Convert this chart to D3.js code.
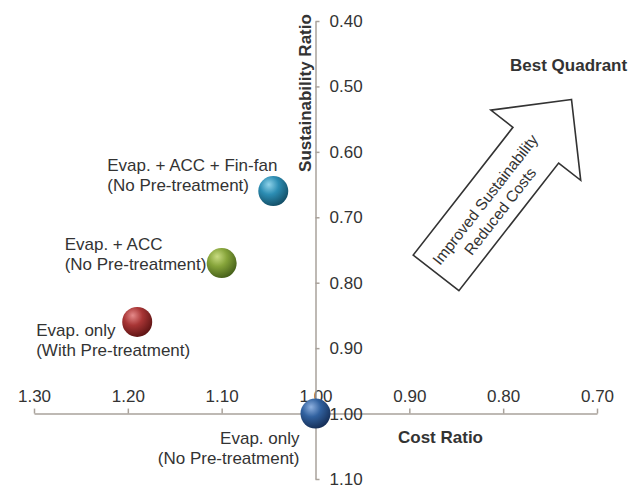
<!DOCTYPE html>
<html>
<head>
<meta charset="utf-8">
<script src="https://cdn.jsdelivr.net/npm/d3@7"></script>
<style>
  html, body { margin: 0; padding: 0; background: #fff; }
  svg { display: block; font-family: "Liberation Sans", Arial, sans-serif; }
</style>
</head>
<body>
<svg id="chart" width="634" height="488"></svg>
<script>
// Cost vs. sustainability of water treatment options (both ratios vs. baseline)
const options = ["Evap. + ACC + Fin-fan", "Evap. + ACC", "Evap. only (with pre-treatment)", "Evap. only (no pre-treatment)"];
const costRatio = [1.045, 1.10, 1.19, 1.00];
const sustainabilityRatio = [0.66, 0.77, 0.86, 1.00];
const labelLines = [
  ["Evap. + ACC + Fin-fan", "(No Pre-treatment)"],
  ["Evap. + ACC", "(No Pre-treatment)"],
  ["Evap. only", "(With Pre-treatment)"],
  ["Evap. only", "(No Pre-treatment)"]
];
const xTicks = [1.30, 1.20, 1.10, 1.00, 0.90, 0.80, 0.70];
const yTicks = [0.40, 0.50, 0.60, 0.70, 0.80, 0.90, 1.00, 1.10];

// sphere colours: [highlight, body, rim]
const sphereColors = [
  ["#8fd3ea", "#2c8db3", "#134e66"],
  ["#c9dc82", "#86a43a", "#46601a"],
  ["#e58a8a", "#a83535", "#5e1414"],
  ["#8fb1e0", "#31619f", "#162f58"]
];
// label placement relative to each point: [dx, dy of first baseline, anchor]
const labelPlacement = [
  [-166, -20, "start"],
  [-157, -13, "start"],
  [-101, 14, "start"],
  [-16, 30, "end"]
];

const svg = d3.select("#chart");
const x = d3.scaleLinear().domain([1.30, 0.70]).range([34, 597]);
const y = d3.scaleLinear().domain([0.40, 1.10]).range([21, 479]);

const axisColor = "#a9a29b";
const textColor = "#333";

// x axis crosses at sustainability 1.00
const gx = svg.append("g")
  .attr("transform", `translate(0,${y(1.00)})`)
  .call(d3.axisTop(x).tickValues(xTicks).tickFormat(d3.format(".2f")).tickSize(5).tickSizeOuter(0).tickPadding(7));

// y axis crosses at cost 1.00
const gy = svg.append("g")
  .attr("transform", `translate(${x(1.00)},0)`)
  .call(d3.axisRight(y).tickValues(yTicks).tickFormat(d3.format(".2f")).tickSize(4).tickSizeOuter(0).tickPadding(10));

[gx, gy].forEach(g => {
  g.select(".domain").attr("stroke", axisColor).attr("stroke-width", 1.5);
  g.selectAll(".tick line").attr("stroke", axisColor).attr("stroke-width", 1.5);
  g.selectAll(".tick text").attr("fill", textColor).style("font-size", "17px");
});

// axis titles
svg.append("text")
  .attr("transform", `translate(311,${93}) rotate(-90)`)
  .attr("text-anchor", "middle")
  .attr("fill", textColor)
  .style("font-size", "17px").style("font-weight", "bold")
  .text("Sustainability Ratio");

svg.append("text")
  .attr("x", 398).attr("y", 443)
  .attr("fill", textColor)
  .style("font-size", "17px").style("font-weight", "bold")
  .text("Cost Ratio");

svg.append("text")
  .attr("x", 510).attr("y", 71)
  .attr("fill", textColor)
  .style("font-size", "17px").style("font-weight", "bold")
  .text("Best Quadrant");

// direction arrow
const arrow = svg.append("g").attr("transform", "translate(571.5,99.5) rotate(-52)");
arrow.append("path")
  .attr("d", "M0,0 L-58,-57 L-58,-29 L-220,-29 L-220,29 L-58,29 L-58,57 Z")
  .attr("fill", "#fff")
  .attr("stroke", "#333")
  .attr("stroke-width", 1.6)
  .attr("stroke-linejoin", "miter");
arrow.append("text")
  .attr("x", -132).attr("y", -1)
  .attr("text-anchor", "middle")
  .attr("fill", textColor)
  .style("font-size", "15.5px")
  .text("Improved Sustainability");
arrow.append("text")
  .attr("x", -132).attr("y", 18)
  .attr("text-anchor", "middle")
  .attr("fill", textColor)
  .style("font-size", "15.5px")
  .text("Reduced Costs");

// sphere gradients
const defs = svg.append("defs");
sphereColors.forEach((c, i) => {
  const g = defs.append("radialGradient")
    .attr("id", "sphere" + i)
    .attr("cx", "38%").attr("cy", "32%").attr("r", "70%")
    .attr("fx", "35%").attr("fy", "28%");
  g.append("stop").attr("offset", "0%").attr("stop-color", c[0]);
  g.append("stop").attr("offset", "45%").attr("stop-color", c[1]);
  g.append("stop").attr("offset", "100%").attr("stop-color", c[2]);
});

const data = options.map((name, i) => ({
  name, cost: costRatio[i], sust: sustainabilityRatio[i], lines: labelLines[i], place: labelPlacement[i], i
}));

// data labels
data.forEach(d => {
  const px = x(d.cost), py = y(d.sust);
  const t = svg.append("text")
    .attr("fill", textColor)
    .attr("text-anchor", d.place[2])
    .style("font-size", "17px");
  d.lines.forEach((line, k) => {
    t.append("tspan")
      .attr("x", px + d.place[0])
      .attr("y", py + d.place[1] + k * 20)
      .text(line);
  });
});

// bubbles
svg.selectAll("circle.pt")
  .data(data)
  .join("circle")
  .attr("class", "pt")
  .attr("cx", d => x(d.cost))
  .attr("cy", d => y(d.sust))
  .attr("r", 15)
  .attr("fill", d => `url(#sphere${d.i})`);
</script>
</body>
</html>
